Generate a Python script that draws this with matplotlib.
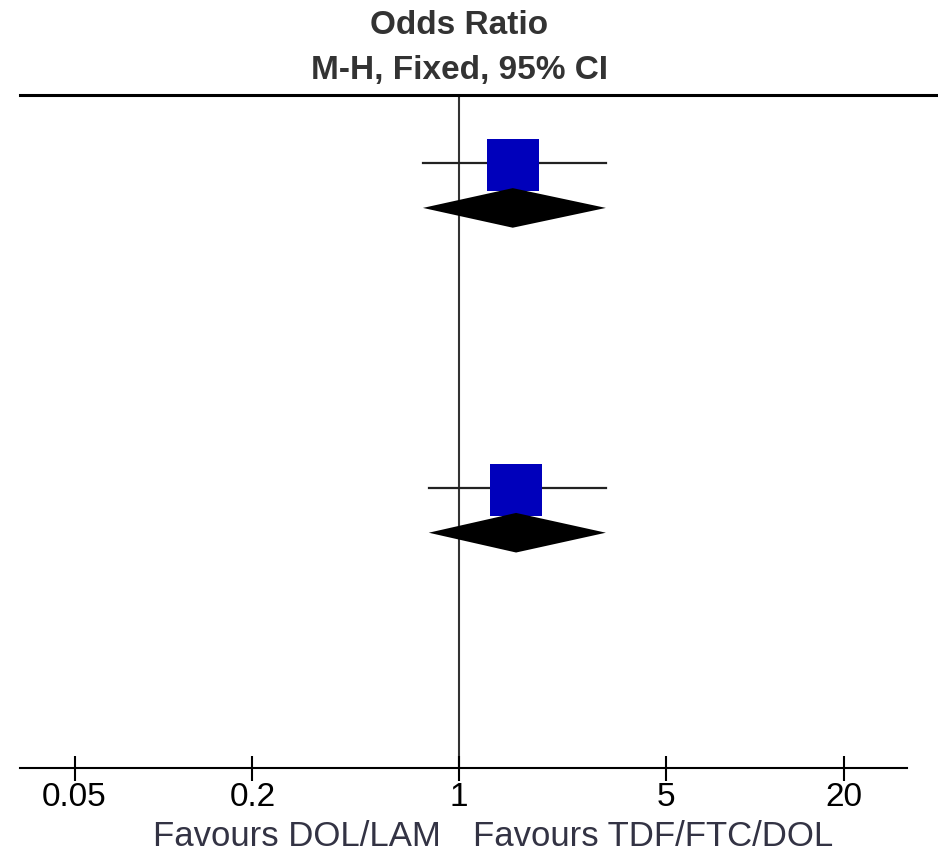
import matplotlib
matplotlib.use("Agg")
import matplotlib.pyplot as plt
from matplotlib.lines import Line2D

# odds ratios (M-H, fixed) with 95% CI, one study per subgroup
study_or = [1.52, 1.56]
study_lo = [0.755, 0.79]
study_hi = [3.14, 3.14]
total_or = [1.52, 1.56]
total_lo = [0.755, 0.79]
total_hi = [3.14, 3.14]

tick_vals = [0.05, 0.2, 1, 5, 20]
tick_labels = ["0.05", "0.2", "1", "5", "20"]

# row layout (rows of ~45 px, top of plot = 0)
study_rows = [1.51, 8.73]
total_rows = [2.51, 9.73]

plt.rcParams["font.family"] = ["Liberation Sans", "DejaVu Sans"]

fig = plt.figure(figsize=(9.38, 8.57), dpi=100)
W, H = 938, 857
ax = fig.add_axes([20 / W, (H - 768) / H, (907 - 20) / W, (768 - 95) / H])
ax.set_xscale("log")
ax.set_xlim(0.0327, 32.8)
ax.set_ylim(14.96, 0)

for s in ["top", "left", "right"]:
    ax.spines[s].set_visible(False)
ax.spines["bottom"].set_linewidth(1.5)
ax.set_yticks([])
ax.set_xticks(tick_vals)
ax.set_xticklabels(tick_labels, fontsize=24)
ax.minorticks_off()
ax.tick_params(axis="x", direction="inout", length=18, width=1.5, pad=1)

# line of no effect
ax.axvline(1, color="#333333", lw=1.5, zorder=1)

for i in range(len(study_or)):
    y = study_rows[i]
    ax.plot([study_lo[i], study_hi[i]], [y, y], color="#222222", lw=1.6, zorder=2)
    ax.plot(study_or[i], y + 0.05, marker="s", markersize=37.4, color="#0000BB",
            markeredgewidth=0, zorder=3)
    yt = total_rows[i]
    ax.fill([total_lo[i], total_or[i], total_hi[i], total_or[i]],
            [yt, yt - 0.44, yt, yt + 0.44], color="black", lw=0, zorder=4)

# header rule across the top
fig.add_artist(Line2D([20 / W, 1], [(H - 95) / H] * 2, color="black", lw=2.2))

fig.text(459 / W, (H - 25) / H, "Odds Ratio", ha="center", va="center",
         fontsize=24, fontweight="bold", color="#333333")
fig.text(459 / W, (H - 71) / H, "M-H, Fixed, 95% CI", ha="center", va="center",
         fontsize=24, fontweight="bold", color="#333333")

fig.text(441 / W, (H - 836) / H, "Favours DOL/LAM", ha="right", va="center",
         fontsize=25, color="#333344")
fig.text(473 / W, (H - 836) / H, "Favours TDF/FTC/DOL", ha="left", va="center",
         fontsize=25, color="#333344")

fig.savefig("out.png", dpi=100)
